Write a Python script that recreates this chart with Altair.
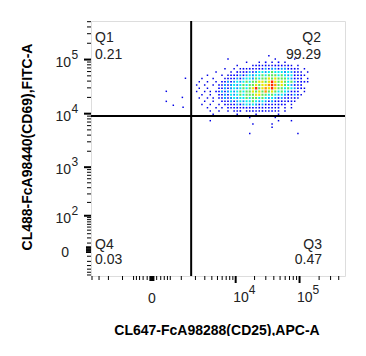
import altair as alt
import pandas as pd

X_TITLE = "CL647-FcA98288(CD25),APC-A"
Y_TITLE = "CL488-FcA98440(CD69),FITC-A"

# biexponential-like display approximated by symlog scales
X_DOMAIN = [-4164, 499400]
Y_DOMAIN = [-64, 515000]
X_CONST = 549
Y_CONST = 31
X_GATE = 1644
Y_GATE = 9050

W, H = 254, 255

quad_names = ["Q1", "Q2", "Q3", "Q4"]
quad_pcts = ["0.21", "99.29", "0.47", "0.03"]
quad_px = [4, W - 24, W - 23, 4]
quad_align = ["left", "right", "right", "left"]

# density map: rows top->bottom, columns left->right
X_LOG0, X_LOG_STEP = 3.325, 0.05
Y_LOG0, Y_LOG_STEP = 5.07, -0.06
density_rows = [
    "                        .             ",
    "           .              .     .     ",
    "                 .   . b . b .        ",
    "              .    .bb.b..bbb.b. .    ",
    "          .  . .b.bb.bblbllbllbbb. .  ",
    "       .    . b.bblblcclcgccclclbb. . ",
    "    .    . .bbblblclccgcgggcgclcbbb.  ",
    "  .   .   .bbblblcclgcggygygggclbbb . ",
    " .  .  . bblblclcgcggyygyrygygcglbbb. ",
    ".  .  . bblblclcgcggygyyorogygclbbb   ",
    " .  .   bblblclcgcgyrgyoyryggcgclbb.  ",
    ".  . . bblblclcgcggygygogygcgclbbb .  ",
    "  .  .  bblbclcgcgggyyggcgclclbblb.   ",
    " .  . . bblblclccgcggcgclclblbb.b.    ",
    "   .  .  b.blblclccgclclblbbb.bb.     ",
    "  .  .  . b.bblblclclblbbb.bbb .      ",
    "    .  . . b.bb.bbbb.bb.bb.b . .      ",
    "     .  .  . ..b ..b..b..b.. .       ",
    "      .       .     .      .          ",
    "                  .       .           ",
    "     .                     .   .      ",
    "                   .     .            ",
    "                         .            ",
    "                                      ",
    "                  .              .    ",
]
level_chars = [".", "b", "l", "c", "g", "y", "o", "r"]
level_colors = ["#0000e6", "#0000ff", "#0096ff", "#00ecec", "#5ae65a", "#e6e600", "#ff9600", "#ff2800"]
level_sizes = [2.2, 6, 11, 11, 11, 11, 11, 11]

# scattered events outside the main cloud (Q1)
q1_x = [1243, 363, 1059, 363, 619, 1100]
q1_y = [45100, 25900, 20000, 16900, 14300, 13100]

# axis ticks
x_major = [1e4, 1e5]
x_minor = [-4000, -3000, -2000, -1000, -500, -400, -300, -200, -100,
           100, 200, 300, 400, 500, 1000, 2000, 3000, 4000, 5000, 6000, 7000, 8000, 9000,
           20000, 30000, 40000, 50000, 60000, 70000, 80000, 90000,
           200000, 300000, 400000]
x_block = [-40, -30, -20, -10, 0, 10, 20, 30, 40]
y_major = [100, 1000, 1e4, 1e5]
y_minor = [-60, -50, -40, -30, -20, -10, 10, 20, 30, 40, 50, 60, 70, 80, 90,
           200, 300, 400, 500, 600, 700, 800, 900,
           2000, 3000, 4000, 5000, 6000, 7000, 8000, 9000,
           20000, 30000, 40000, 50000, 60000, 70000, 80000, 90000,
           200000, 300000, 400000, 500000]
y_block = [-4, -3, -2, -1, 0, 1, 2, 3, 4]
x_pow_vals = [1e4, 1e5]
x_pow_exp = ["4", "5"]
y_pow_vals = [100, 1000, 1e4, 1e5]
y_pow_exp = ["2", "3", "4", "5"]

FONT = "Liberation Sans"
TXT = "#222222"

# ---- build event table
recs = []
for r, row in enumerate(density_rows):
    for c, ch in enumerate(row.ljust(38)[:38]):
        if ch in level_chars:
            recs.append({"x": 10 ** (X_LOG0 + X_LOG_STEP * c),
                         "y": 10 ** (Y_LOG0 + Y_LOG_STEP * r),
                         "level": level_chars.index(ch) + 1})
for xv, yv in zip(q1_x, q1_y):
    recs.append({"x": xv, "y": yv, "level": 1})
events = pd.DataFrame(recs).sort_values("level", kind="stable")

xs = alt.Scale(type="symlog", constant=X_CONST, domain=X_DOMAIN, nice=False, zero=False)
ys = alt.Scale(type="symlog", constant=Y_CONST, domain=Y_DOMAIN, nice=False, zero=False)

levels = list(range(1, len(level_chars) + 1))
dots = alt.Chart(events).mark_square(opacity=1, strokeWidth=0).encode(
    x=alt.X("x:Q", scale=xs, axis=None),
    y=alt.Y("y:Q", scale=ys, axis=None),
    color=alt.Color("level:O", scale=alt.Scale(domain=levels, range=level_colors), legend=None),
    size=alt.Size("level:O", scale=alt.Scale(domain=levels, range=level_sizes), legend=None),
)

vgate = alt.Chart(pd.DataFrame({"x": [X_GATE]})).mark_rule(color="black", strokeWidth=2).encode(
    x=alt.X("x:Q", scale=xs), y=alt.value(0), y2=alt.value(H))
hgate = alt.Chart(pd.DataFrame({"y": [Y_GATE]})).mark_rule(color="black", strokeWidth=2).encode(
    y=alt.Y("y:Q", scale=ys), x=alt.value(0), x2=alt.value(W))


def xticks(vals, length, width):
    return alt.Chart(pd.DataFrame({"x": vals})).mark_rule(color="black", strokeWidth=width).encode(
        x=alt.X("x:Q", scale=xs), y=alt.value(H), y2=alt.value(H + length))


def yticks(vals, length, width):
    return alt.Chart(pd.DataFrame({"y": vals})).mark_rule(color="black", strokeWidth=width).encode(
        y=alt.Y("y:Q", scale=ys), x=alt.value(0), x2=alt.value(-length))


# tick labels
x_zero = alt.Chart(pd.DataFrame({"x": [0], "t": ["0"]})).mark_text(
    font=FONT, fontSize=14, color=TXT, align="center", baseline="alphabetic").encode(
    x=alt.X("x:Q", scale=xs), y=alt.value(282), text="t:N")
x_ten = alt.Chart(pd.DataFrame({"x": x_pow_vals, "t": ["10"] * len(x_pow_vals)})).mark_text(
    font=FONT, fontSize=14, color=TXT, align="left", baseline="alphabetic", dx=-2.5).encode(
    x=alt.X("x:Q", scale=xs), y=alt.value(281), text="t:N")
x_exp = alt.Chart(pd.DataFrame({"x": x_pow_vals, "t": x_pow_exp})).mark_text(
    font=FONT, fontSize=12, color=TXT, align="left", baseline="alphabetic", dx=13).encode(
    x=alt.X("x:Q", scale=xs), y=alt.value(273), text="t:N")

y_zero = alt.Chart(pd.DataFrame({"y": [0], "t": ["0"]})).mark_text(
    font=FONT, fontSize=14, color=TXT, align="right", baseline="alphabetic", dy=7).encode(
    y=alt.Y("y:Q", scale=ys), x=alt.value(-22), text="t:N")
y_ten = alt.Chart(pd.DataFrame({"y": y_pow_vals, "t": ["10"] * len(y_pow_vals)})).mark_text(
    font=FONT, fontSize=14, color=TXT, align="right", baseline="alphabetic", dy=7).encode(
    y=alt.Y("y:Q", scale=ys), x=alt.value(-20), text="t:N")
y_exp = alt.Chart(pd.DataFrame({"y": y_pow_vals, "t": y_pow_exp})).mark_text(
    font=FONT, fontSize=12, color=TXT, align="left", baseline="alphabetic", dy=-1).encode(
    y=alt.Y("y:Q", scale=ys), x=alt.value(-19.5), text="t:N")

# quadrant annotations
quad_text = []
for i in range(4):
    top = i < 2
    quad_text.append(alt.Chart(pd.DataFrame({"t": [quad_names[i]]})).mark_text(
        font=FONT, fontSize=14, color=TXT, align=quad_align[i], baseline="alphabetic").encode(
        x=alt.value(float(quad_px[i])), y=alt.value(21 if top else 227.5), text="t:N"))
    quad_text.append(alt.Chart(pd.DataFrame({"t": [quad_pcts[i]]})).mark_text(
        font=FONT, fontSize=14, color=TXT, align=quad_align[i], baseline="alphabetic").encode(
        x=alt.value(float(quad_px[i])), y=alt.value(37.5 if top else 242.5), text="t:N"))

x_title = alt.Chart(pd.DataFrame({"t": [X_TITLE]})).mark_text(
    font=FONT, fontSize=14, fontWeight="bold", color="black", align="center", baseline="middle").encode(
    x=alt.value(126), y=alt.value(309.5), text="t:N")
y_title = alt.Chart(pd.DataFrame({"t": [Y_TITLE]})).mark_text(
    font=FONT, fontSize=14, fontWeight="bold", color="black", align="center", baseline="middle",
    angle=270).encode(
    x=alt.value(-63.5), y=alt.value(126), text="t:N")

chart = alt.layer(
    dots, vgate, hgate,
    xticks(x_minor, 4, 1), xticks(x_block, 5, 1), xticks(x_major, 7, 2),
    yticks(y_minor, 4, 1), yticks(y_block, 5, 1), yticks(y_major, 7, 2),
    x_zero, x_ten, x_exp, y_zero, y_ten, y_exp,
    *quad_text, x_title, y_title,
).properties(
    width=W, height=H, autosize="none",
    padding={"left": 83, "top": 13, "right": 13, "bottom": 60},
).configure_view(stroke="black", strokeWidth=1).configure(background="white")

chart.save("out.html", embed_options={"renderer": "svg", "actions": False})
